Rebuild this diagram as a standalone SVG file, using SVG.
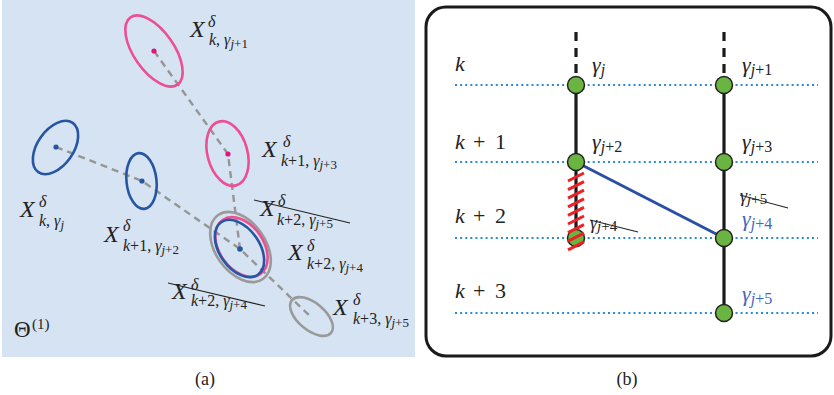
<svg xmlns="http://www.w3.org/2000/svg" width="834" height="395" viewBox="0 0 834 395">
<style>
.mi{font-family:"Liberation Serif","DejaVu Serif",serif;font-style:italic;fill:#222}
.rm{font-style:normal}
.ell{fill:none;stroke-width:2.6}
.pk{stroke:#ec4f93}
.bl{stroke:#2656a3}
.gr{stroke:#9a9a9a}
.dash{fill:none;stroke:#959595;stroke-width:2.4;stroke-dasharray:7 5}
.strike{stroke:#222;stroke-width:1.1}
.dot{fill:none;stroke:#2b8ad3;stroke-width:2;stroke-dasharray:2 3.1}
.col{stroke:#1a1a1a;stroke-width:3.2;fill:none}
.node{fill:#6ab541;stroke:#222;stroke-width:1.5}
.hatch{stroke:#ee2024;stroke-width:3}
.cap{font-family:"Liberation Serif","DejaVu Serif",serif;font-size:18px;fill:#222}
.blue{fill:#4466c0}
</style>

<!-- Panel (a) -->
<g id="panel-a">
<rect x="2" y="0" width="413" height="357" fill="#d6e3f2"/>
<g id="connectors-a">
<polyline class="dash" points="154,51 228,154 240,249"/>
<polyline class="dash" points="56,147 142,181 240,249 312,318"/>
</g>
<g id="ell-k-j1">
<ellipse class="ell pk" cx="154" cy="51" rx="20" ry="41" transform="rotate(-35 154 51)"/>
<circle cx="154" cy="51" r="2.6" fill="#e0157a"/>
</g>
<g id="ell-k1-j3">
<ellipse class="ell pk" cx="227.5" cy="153.5" rx="20" ry="33" transform="rotate(-15 227.5 153.5)"/>
<circle cx="228" cy="154" r="2.6" fill="#e0157a"/>
</g>
<g id="ell-k-j">
<ellipse class="ell bl" cx="55.5" cy="147.5" rx="18" ry="30" transform="rotate(35 55.5 147.5)"/>
<circle cx="56" cy="147" r="2.6" fill="#2656a3"/>
</g>
<g id="ell-k1-j2">
<ellipse class="ell bl" cx="141.5" cy="181" rx="15" ry="28" transform="rotate(-6 141.5 181)"/>
<circle cx="142" cy="181" r="2.6" fill="#2656a3"/>
</g>
<g id="ell-k2-cluster">
<ellipse class="ell gr" cx="240.5" cy="247" rx="25" ry="39" transform="rotate(-35 240.5 247)"/>
<ellipse class="ell pk" cx="241.5" cy="247" rx="22" ry="33" transform="rotate(-35 241.5 247)"/>
<ellipse class="ell bl" cx="239.5" cy="248.5" rx="20" ry="32" transform="rotate(-35 239.5 248.5)"/>
<circle cx="240" cy="249" r="2.8" fill="#2656a3"/>
</g>
<g id="ell-k3-j5">
<ellipse class="ell gr" cx="311.5" cy="316.5" rx="13.5" ry="25.5" transform="rotate(-50 311.5 316.5)"/>
</g>

<g id="labels-a">
<g id="lbl1">
<text class="mi" x="190" y="37" font-size="24">X</text>
<text class="mi" x="208" y="27" font-size="16">δ</text>
<text class="mi" x="209" y="45" font-size="16">k<tspan class="rm">,</tspan><tspan dx="4">γ</tspan><tspan font-size="13" dy="3">j<tspan class="rm">+1</tspan></tspan></text>
</g>
<g id="lbl2">
<text class="mi" x="262" y="157" font-size="24">X</text>
<text class="mi" x="283" y="147" font-size="16">δ</text>
<text class="mi" x="281" y="166" font-size="16">k<tspan class="rm">+1,</tspan><tspan dx="4">γ</tspan><tspan font-size="13" dy="3">j<tspan class="rm">+3</tspan></tspan></text>
</g>
<g id="lbl3">
<text class="mi" x="20" y="217" font-size="24">X</text>
<text class="mi" x="39" y="207" font-size="16">δ</text>
<text class="mi" x="39" y="226" font-size="16">k<tspan class="rm">,</tspan><tspan dx="4">γ</tspan><tspan font-size="13" dy="3">j</tspan></text>
</g>
<g id="lbl4">
<text class="mi" x="104" y="242" font-size="24">X</text>
<text class="mi" x="123" y="231" font-size="16">δ</text>
<text class="mi" x="123" y="251" font-size="16">k<tspan class="rm">+1,</tspan><tspan dx="4">γ</tspan><tspan font-size="13" dy="3">j<tspan class="rm">+2</tspan></tspan></text>
</g>
<g id="lbl5">
<text class="mi" x="260" y="216" font-size="24">X</text>
<text class="mi" x="278" y="206" font-size="16">δ</text>
<text class="mi" x="277" y="225" font-size="16">k<tspan class="rm">+2,</tspan><tspan dx="4">γ</tspan><tspan font-size="13" dy="3">j<tspan class="rm">+5</tspan></tspan></text>
<line class="strike" x1="254" y1="200" x2="350" y2="223"/>
</g>
<g id="lbl6">
<text class="mi" x="288" y="260" font-size="24">X</text>
<text class="mi" x="307" y="251" font-size="16">δ</text>
<text class="mi" x="307" y="269" font-size="16">k<tspan class="rm">+2,</tspan><tspan dx="4">γ</tspan><tspan font-size="13" dy="3">j<tspan class="rm">+4</tspan></tspan></text>
</g>
<g id="lbl7">
<text class="mi" x="172" y="299" font-size="24">X</text>
<text class="mi" x="191" y="290" font-size="16">δ</text>
<text class="mi" x="191" y="306" font-size="16">k<tspan class="rm">+2,</tspan><tspan dx="4">γ</tspan><tspan font-size="13" dy="3">j<tspan class="rm">+4</tspan></tspan></text>
<line class="strike" x1="168" y1="283" x2="265" y2="306"/>
</g>
<g id="lbl8">
<text class="mi" x="333" y="315" font-size="24">X</text>
<text class="mi" x="353" y="305" font-size="16">δ</text>
<text class="mi" x="353" y="324" font-size="16">k<tspan class="rm">+3,</tspan><tspan dx="4">γ</tspan><tspan font-size="13" dy="3">j<tspan class="rm">+5</tspan></tspan></text>
</g>
<g id="lbl-theta">
<text x="14" y="337" font-family="Liberation Serif, serif" font-size="23" fill="#222">Θ</text>
<text x="32" y="329" font-family="Liberation Serif, serif" font-size="15" fill="#222">(1)</text>
</g>
</g>
</g>
<text class="cap" x="205" y="385" text-anchor="middle">(a)</text>

<!-- Panel (b) -->
<g id="panel-b">
<rect x="426" y="7" width="405" height="349" rx="20" fill="#fff" stroke="#1a1a1a" stroke-width="3"/>
<g id="levels">
<line class="dot" x1="455" y1="85" x2="818" y2="85"/>
<line class="dot" x1="455" y1="162" x2="818" y2="162"/>
<line class="dot" x1="455" y1="238" x2="818" y2="238"/>
<line class="dot" x1="455" y1="313" x2="818" y2="313"/>
</g>
<g id="connectors-b">
<line class="col" x1="576" y1="32" x2="576" y2="77" stroke-dasharray="9 7"/>
<line class="col" x1="724" y1="32" x2="724" y2="77" stroke-dasharray="9 7"/>
<line class="col" x1="576" y1="85" x2="576" y2="238"/>
<line class="col" x1="724" y1="85" x2="724" y2="313"/>
<line x1="576" y1="162" x2="724" y2="238" stroke="#2a4fa5" stroke-width="3"/>
</g>
<g id="n-gj"><circle class="node" cx="576" cy="85" r="8.5"/></g>
<g id="n-gj1"><circle class="node" cx="724" cy="85" r="8.5"/></g>
<g id="n-gj2"><circle class="node" cx="576" cy="162" r="8.5"/></g>
<g id="n-gj3"><circle class="node" cx="724" cy="162" r="8.5"/></g>
<g id="n-gj4-old"><circle class="node" cx="576" cy="238" r="8.5"/></g>
<g id="n-gj4"><circle class="node" cx="724" cy="238" r="8.5"/></g>
<g id="n-gj5"><circle class="node" cx="724" cy="313" r="8.5"/></g>
<g id="hatching">
<line class="hatch" x1="568" y1="181" x2="584" y2="173"/>
<line class="hatch" x1="568" y1="189.6" x2="584" y2="181.6"/>
<line class="hatch" x1="568" y1="198.2" x2="584" y2="190.2"/>
<line class="hatch" x1="568" y1="206.8" x2="584" y2="198.8"/>
<line class="hatch" x1="568" y1="215.4" x2="584" y2="207.4"/>
<line class="hatch" x1="568" y1="224" x2="584" y2="216"/>
<line class="hatch" x1="568" y1="232.6" x2="584" y2="224.6"/>
<line class="hatch" x1="568" y1="241.2" x2="584" y2="233.2"/>
<line class="hatch" x1="568" y1="249.8" x2="584" y2="241.8"/>
</g>
<g id="labels-b">
<text class="mi" x="455" y="71" font-size="22">k</text>
<text class="mi" x="455" y="149" font-size="22">k<tspan class="rm" x="473">+</tspan><tspan class="rm" x="495">1</tspan></text>
<text class="mi" x="455" y="223" font-size="22">k<tspan class="rm" x="473">+</tspan><tspan class="rm" x="495">2</tspan></text>
<text class="mi" x="455" y="298" font-size="22">k<tspan class="rm" x="473">+</tspan><tspan class="rm" x="495">3</tspan></text>

<text class="mi" x="592" y="72" font-size="22">γ<tspan font-size="16" dy="3">j</tspan></text>
<text class="mi" x="742" y="72" font-size="22">γ<tspan font-size="16" dy="3">j<tspan class="rm">+1</tspan></tspan></text>
<text class="mi" x="592" y="149" font-size="22">γ<tspan font-size="16" dy="3">j<tspan class="rm">+2</tspan></tspan></text>
<text class="mi" x="742" y="149" font-size="22">γ<tspan font-size="16" dy="3">j<tspan class="rm">+3</tspan></tspan></text>
<g id="strike-gj5">
<text class="mi" x="740" y="202" font-size="18">γ<tspan font-size="15" dy="2">j<tspan class="rm">+5</tspan></tspan></text>
<line class="strike" x1="740" y1="195" x2="788" y2="208"/>
</g>
<text class="mi blue" x="742" y="226" font-size="22">γ<tspan font-size="16" dy="3">j<tspan class="rm">+4</tspan></tspan></text>
<g id="strike-gj4">
<text class="mi" x="590" y="229" font-size="18">γ<tspan font-size="15" dy="2">j<tspan class="rm">+4</tspan></tspan></text>
<line class="strike" x1="590" y1="220" x2="638" y2="232"/>
</g>
<text class="mi blue" x="742" y="301" font-size="22">γ<tspan font-size="16" dy="3">j<tspan class="rm">+5</tspan></tspan></text>
</g>
</g>
<text class="cap" x="627" y="385" text-anchor="middle">(b)</text>
</svg>
